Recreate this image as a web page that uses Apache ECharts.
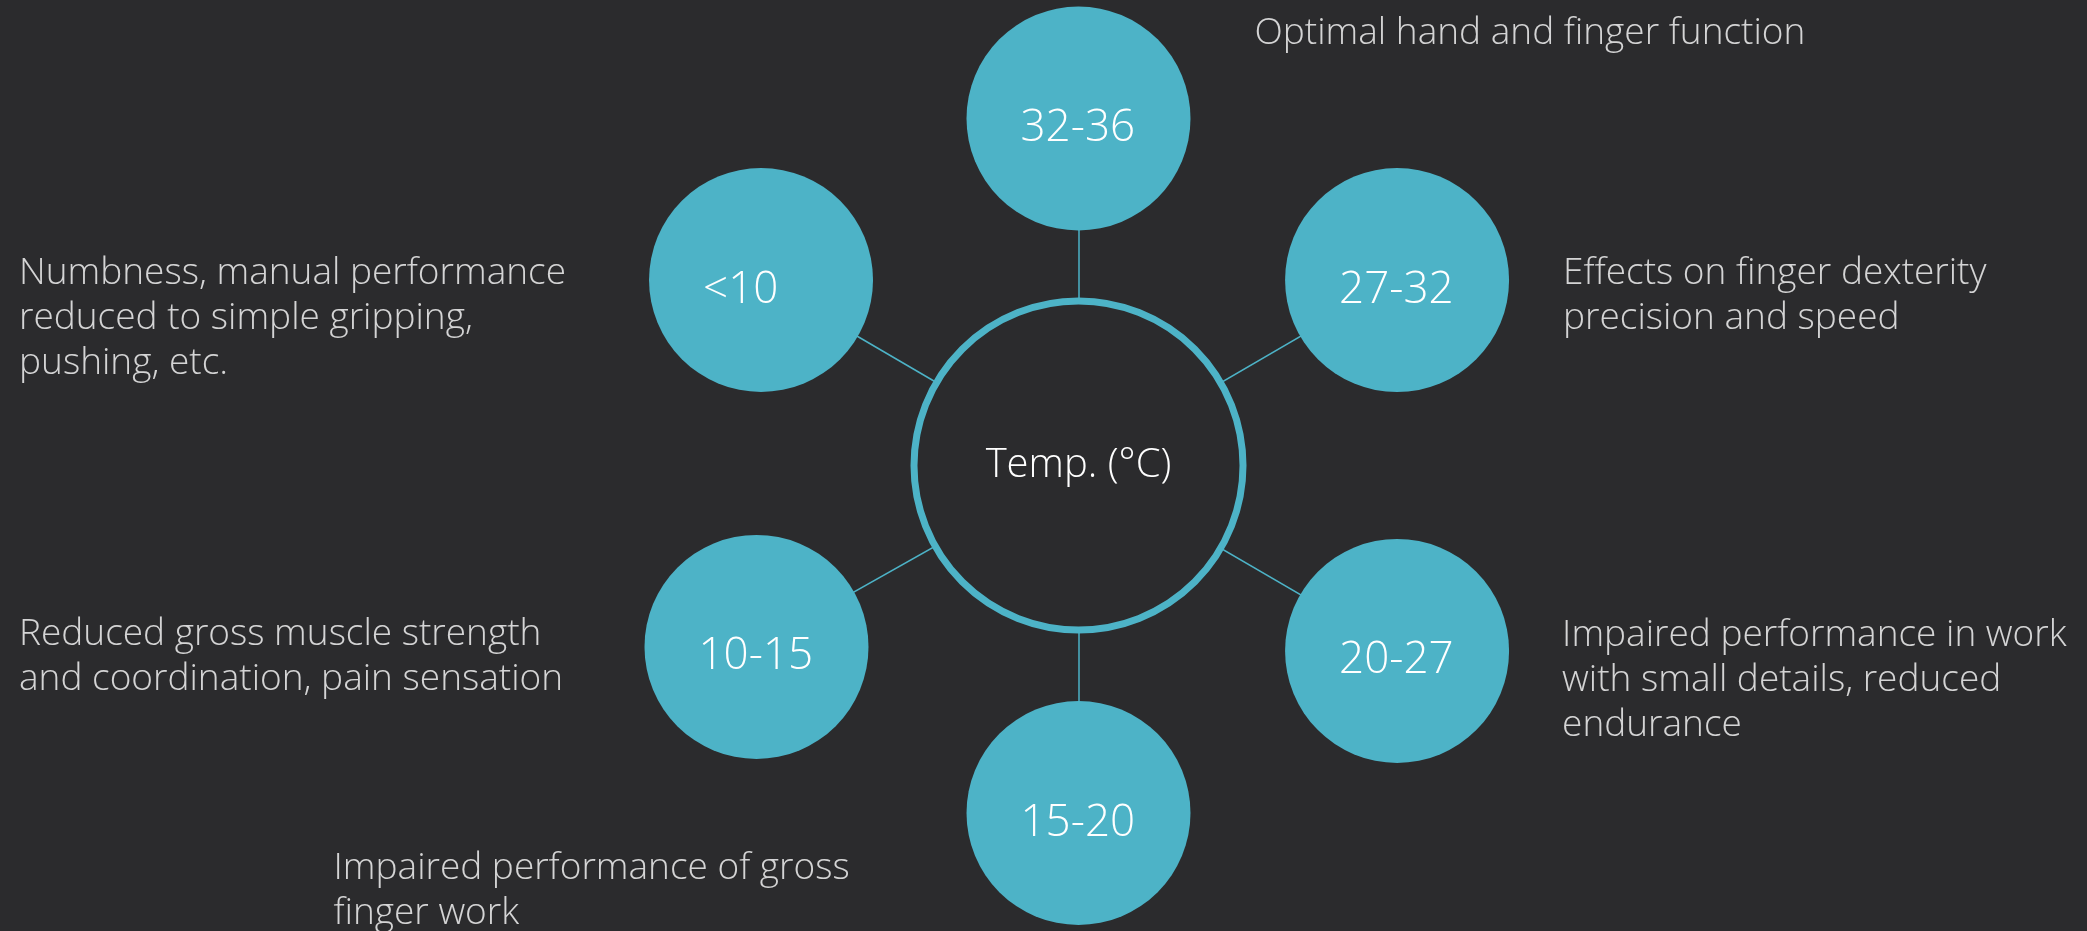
<!DOCTYPE html>
<html>
<head>
<meta charset="utf-8">
<title>Hand temperature and manual performance</title>
<script src="https://cdn.jsdelivr.net/npm/echarts@6/dist/echarts.min.js"></script>
<style>
  html, body { margin: 0; padding: 0; background: #2b2b2d; }
  #chart { width: 2087px; height: 931px; }
</style>
</head>
<body>
<div id="chart"></div>
<script>
// Hand temperature bands (°C) and their effect on manual work
const hubLabel = 'Temp. (°C)';
const ranges = ['32-36', '27-32', '20-27', '15-20', '10-15', '<10'];
const effects = [
  'Optimal hand and finger function',
  'Effects on finger dexterity\nprecision and speed',
  'Impaired performance in work\nwith small details, reduced\nendurance',
  'Impaired performance of gross\nfinger work',
  'Reduced gross muscle strength\nand coordination, pain sensation',
  'Numbness, manual performance\nreduced to simple gripping,\npushing, etc.'
];
// polar placement of each band around the hub: distance and angle (deg, counter-clockwise from east)
const bandDistance = [347, 368.6, 368.6, 347.5, 369.6, 367.7];
const bandAngle = [90, 30.2, 329.8, 270, 209.4, 149.7];

// where each effect text sits relative to its band circle (left edge, first baseline)
const effectOffset = [
  [176, -73.5],
  [166, 5],
  [165, -4],
  [-745, 67],
  [-737.5, -1],
  [-742, 5]
];

const TEAL = '#4db3c7';
const BG = '#2b2b2d';
const FONT = '"Open Sans", "DejaVu Sans", sans-serif';
const LINE_H = 45;
const BASELINE_IN_LINE = 34;

const nodes = [{
  name: hubLabel,
  value: [0, 0],
  symbolSize: 329,
  itemStyle: { color: BG, borderColor: TEAL, borderWidth: 7 },
  label: {
    show: true, position: 'inside', color: '#ffffff',
    fontFamily: FONT, fontWeight: 300, fontSize: 40,
    offset: [0, 0]
  }
}].concat(ranges.map((r, i) => ({
  name: r,
  value: [bandDistance[i], bandAngle[i]],
  symbolSize: 224,
  itemStyle: { color: TEAL },
  label: {
    show: true, position: 'inside', color: '#ffffff',
    fontFamily: FONT, fontWeight: 300, fontSize: 44,
    align: 'left', offset: [-58, 10]
  }
})));

const links = ranges.map((r, i) => ({ source: 0, target: i + 1 }));

const effectPoints = effects.map((t, i) => ({
  name: t,
  value: [bandDistance[i], bandAngle[i]],
  label: {
    show: true,
    position: 'inside',
    formatter: t,
    align: 'left',
    verticalAlign: 'top',
    offset: [effectOffset[i][0], effectOffset[i][1] - BASELINE_IN_LINE],
    color: '#ffffff',
    fontFamily: FONT,
    fontWeight: 300,
    fontSize: 37,
    lineHeight: LINE_H
  }
}));

const chart = echarts.init(document.getElementById('chart'), null, { renderer: 'canvas' });
chart.setOption({
  backgroundColor: BG,
  animation: false,
  polar: { center: [1078.5, 465.5], radius: 400 },
  angleAxis: {
    type: 'value', min: 0, max: 360, startAngle: 0, clockwise: false,
    show: false
  },
  radiusAxis: { type: 'value', min: 0, max: 400, show: false },
  series: [
    {
      type: 'graph',
      coordinateSystem: 'polar',
      layout: 'none',
      symbol: 'circle',
      data: nodes,
      links: links,
      lineStyle: { color: TEAL, width: 1.5, opacity: 1, curveness: 0 },
      emphasis: { disabled: true },
      z: 2
    },
    {
      type: 'scatter',
      coordinateSystem: 'polar',
      symbolSize: 1,
      itemStyle: { color: 'rgba(0,0,0,0)' },
      data: effectPoints,
      emphasis: { disabled: true },
      z: 3
    }
  ]
});
</script>
</body>
</html>
